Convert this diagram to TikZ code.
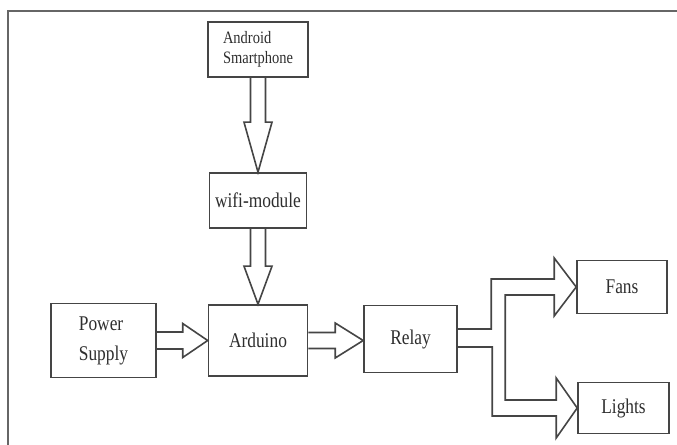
\documentclass[tikz,border=0pt]{standalone}
\usepackage{fontspec}
\setmainfont[FakeStretch=0.83]{Liberation Serif}
\definecolor{linegray}{HTML}{454545}
\definecolor{framegray}{HTML}{666666}
\definecolor{textgray}{HTML}{2E2E2E}

\begin{document}
\begin{tikzpicture}[x=1bp, y=-1bp,
    block/.style={draw=linegray, line width=1.6bp, inner sep=0pt, align=center,
                  text=textgray, font=\fontsize{21}{30}\selectfont},
    hollow/.style={draw=linegray, line width=1.6bp, line join=miter}]
    \useasboundingbox (0,0) rectangle (677,445);
    \draw[framegray, line width=2.4bp] (8,445) -- (8,11) -- (677,11);

    \node[block, minimum width=100bp, minimum height=55bp, align=left,
          font=\fontsize{17.5}{20}\selectfont] (phone) at (258, 49.5) {Android\\Smartphone};
    \node[block, minimum width=97bp,  minimum height=55bp] (wifi)    at (258, 200.5) {wifi-module};
    \node[block, minimum width=99bp,  minimum height=71bp] (arduino) at (258, 340.5) {Arduino};
    \node[block, minimum width=105bp, minimum height=74bp, align=left] (power) at (103.5, 340.5) {Power\\Supply};
    \node[block, minimum width=93bp,  minimum height=67bp] (relay)   at (410.5, 339) {Relay};
    \node[block, minimum width=90bp,  minimum height=53bp] (fans)    at (622, 287) {Fans};
    \node[block, minimum width=91bp,  minimum height=51bp] (lights)  at (623.5, 408) {Lights};

    % vertical arrows
    \draw[hollow] ([shift={(-7.5,0)}]phone.south) -- ([shift={(-7.5,-50)}]wifi.north)
        -- ([shift={(-14,-50)}]wifi.north) -- (wifi.north) -- ([shift={(14,-50)}]wifi.north)
        -- ([shift={(7.5,-50)}]wifi.north) -- ([shift={(7.5,0)}]phone.south);
    \draw[hollow] ([shift={(-7.5,0)}]wifi.south) -- ([shift={(-7.5,-38)}]arduino.north)
        -- ([shift={(-14,-38)}]arduino.north) -- (arduino.north) -- ([shift={(14,-38)}]arduino.north)
        -- ([shift={(7.5,-38)}]arduino.north) -- ([shift={(7.5,0)}]wifi.south);

    % horizontal arrows
    \draw[hollow] ([shift={(0,-8.5)}]power.east) -- ([shift={(-25,-8.5)}]arduino.west)
        -- ([shift={(-25,-17)}]arduino.west) -- (arduino.west) -- ([shift={(-25,17)}]arduino.west)
        -- ([shift={(-25,8.5)}]arduino.west) -- ([shift={(0,8.5)}]power.east);
    \coordinate (rtip) at (arduino.east -| relay.west);
    \draw[hollow] ([shift={(0,-8)}]arduino.east) -- ([shift={(-28,-8)}]rtip)
        -- ([shift={(-28,-17.5)}]rtip) -- (rtip) -- ([shift={(-28,17.5)}]rtip)
        -- ([shift={(-28,8)}]rtip) -- ([shift={(0,8)}]arduino.east);

    % branch to fans and lights
    \coordinate (up1) at ([shift={(0,-10)}]relay.east);
    \coordinate (lo1) at ([shift={(0,8)}]relay.east);
    \draw[hollow] (up1) -| ([shift={(-85,-8)}]fans.west)
        -- ([shift={(-22,-8)}]fans.west) -- ([shift={(-22,-29)}]fans.west) -- (fans.west)
        -- ([shift={(-22,29)}]fans.west) -- ([shift={(-22,8)}]fans.west)
        -- ([shift={(-71,8)}]fans.west) |- ([shift={(-21,-8)}]lights.west)
        -- ([shift={(-21,-30)}]lights.west) -- (lights.west)
        -- ([shift={(-21,30)}]lights.west) -- ([shift={(-21,8)}]lights.west)
        -- ([shift={(-85,8)}]lights.west) |- (lo1);
\end{tikzpicture}
\end{document}
